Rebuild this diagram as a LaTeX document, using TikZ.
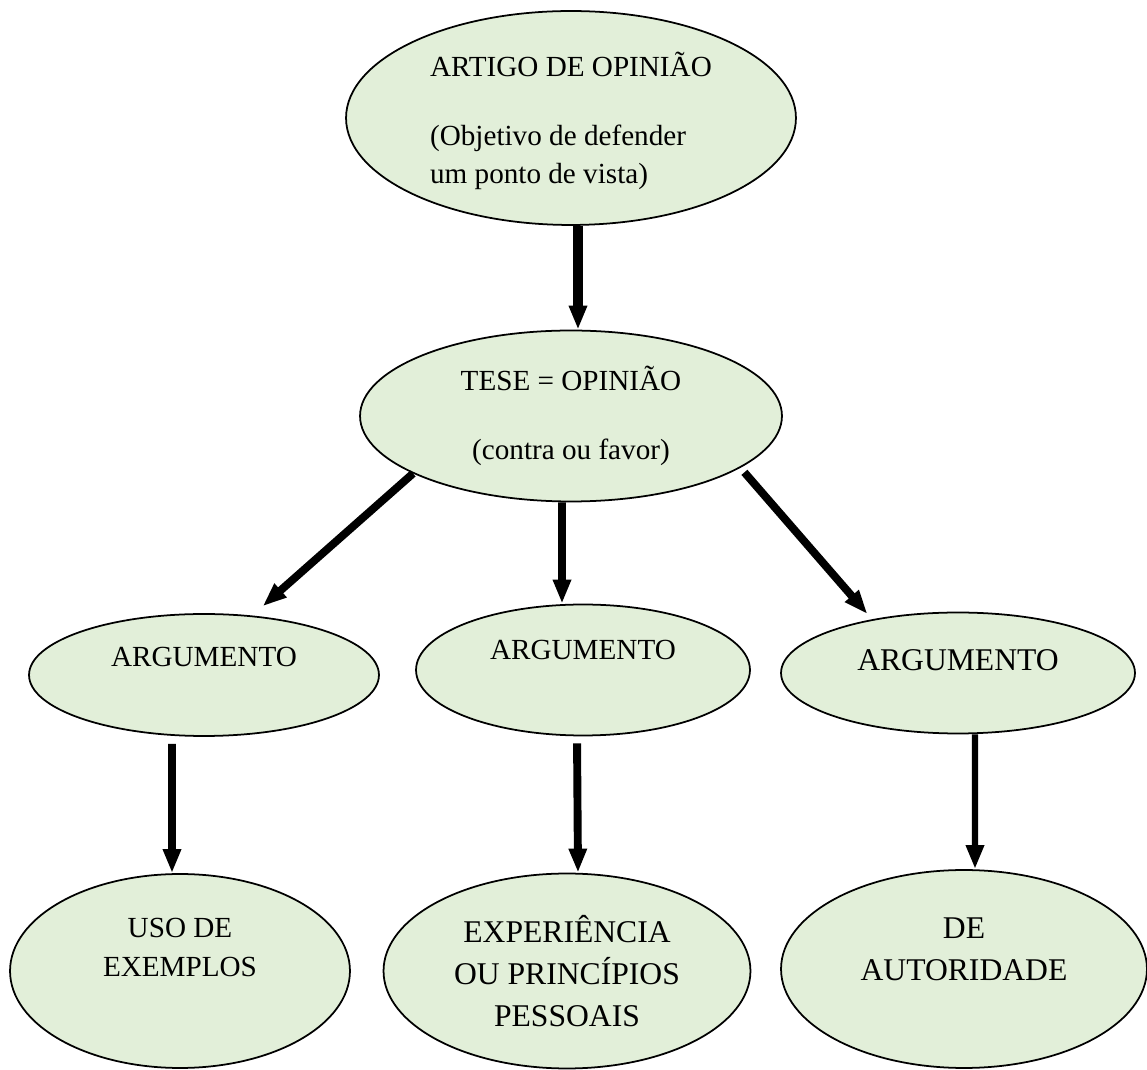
\documentclass[tikz,border=0pt]{standalone}
\usepackage{fontspec}
\setmainfont{Liberation Serif}
\usetikzlibrary{arrows.meta,shapes.geometric}
\definecolor{verdeclaro}{RGB}{226,239,217}
\tikzset{
  balao/.style={ellipse, draw=black, line width=1pt, fill=verdeclaro, inner sep=0pt},
  texto/.style={inner sep=0pt, align=center, font=\fontsize{16.6}{22}\selectfont},
  textogr/.style={texto, font=\fontsize{18}{23.8}\selectfont},
  seta/.style={line width=4.5pt, -{Triangle[length=0.48cm, width=0.34cm]}},
}
\begin{document}
\begin{tikzpicture}[x=0.02cm, y=-0.02cm]
\useasboundingbox (0,0) rectangle (1147,1070);
% baloes
\node[balao, minimum width=9cm, minimum height=4.28cm] (artigo) at (571,118) {};
\node[balao, minimum width=8.44cm, minimum height=3.42cm] (tese) at (571,416) {};
\node[balao, minimum width=7cm, minimum height=2.44cm] (arg1) at (204,675) {};
\node[balao, minimum width=6.68cm, minimum height=2.62cm] (arg2) at (583,670) {};
\node[balao, minimum width=7.08cm, minimum height=2.42cm] (arg3) at (958,673) {};
\node[balao, minimum width=6.8cm, minimum height=3.88cm] (exemplos) at (180,971) {};
\node[balao, minimum width=7.34cm, minimum height=3.9cm] (pessoais) at (567,971) {};
\node[balao, minimum width=7.32cm, minimum height=3.96cm] (autoridade) at (964,969) {};
% textos
\node[texto, align=left] (artigo-txt) at ([yshift=-0.06cm]artigo.center) {ARTIGO DE OPINIÃO\\[17pt](Objetivo de defender\\um ponto de vista)};
\node[texto] (tese-txt) at (tese) {TESE = OPINIÃO\\[17pt](contra ou favor)};
\node[texto] (arg1-txt) at ([yshift=0.36cm]arg1.center) {ARGUMENTO};
\node[texto] (arg2-txt) at ([yshift=0.4cm]arg2.center) {ARGUMENTO};
\node[textogr] (arg3-txt) at ([yshift=0.26cm]arg3.center) {ARGUMENTO};
\node[texto] (exemplos-txt) at ([yshift=0.47cm]exemplos.center) {USO DE\\EXEMPLOS};
\node[textogr] (pessoais-txt) at (pessoais) {EXPERIÊNCIA\\OU PRINCÍPIOS\\PESSOAIS};
\node[textogr] (autoridade-txt) at ([yshift=0.4cm]autoridade.center) {DE\\AUTORIDADE};
% setas
\draw[seta, line width=5.5pt] ([xshift=0.14cm]artigo.south) -- ([xshift=0.14cm]tese.north);
\draw[seta, shorten >=0.28cm] (tese.200) -- (arg1.51);
\draw[seta] ([xshift=-0.18cm]tese.south) -- ([xshift=-0.42cm]arg2.north);
\draw[seta, shorten <=0.12cm, shorten >=0.14cm] (tese.-17) -- (arg3.148);
\draw[seta, shorten <=0.14cm] ([xshift=-0.64cm]arg1.south) -- ([xshift=-0.16cm]exemplos.north);
\draw[seta, shorten <=0.14cm] ([xshift=-0.12cm]arg2.south) -- ([xshift=0.22cm]pessoais.north);
\draw[seta, line width=3.5pt] ([xshift=0.34cm]arg3.south) -- ([xshift=0.22cm]autoridade.north);
\end{tikzpicture}
\end{document}
